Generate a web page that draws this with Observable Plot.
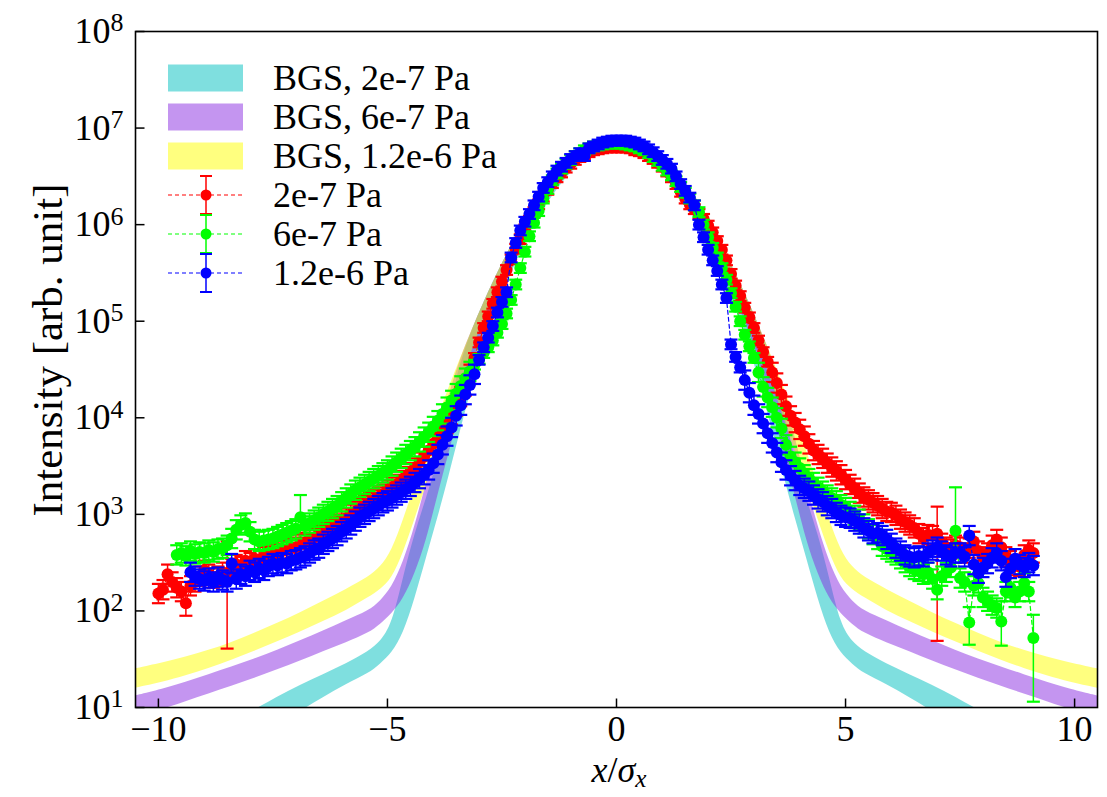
<!DOCTYPE html>
<html><head><meta charset="utf-8">
<script src="https://cdn.jsdelivr.net/npm/d3@7"></script>
<script src="https://cdn.jsdelivr.net/npm/@observablehq/plot@0.6"></script>
<style>
html,body{margin:0;padding:0;background:#fff;}
#chart{width:1107px;height:797px;}
</style></head><body><div id="chart"></div>
<script>
// ---------- data (intensities given as log10 values) ----------
const bandX = [-10.5,-9.9,-9.4,-8.9,-8.4,-7.9,-7.4,-6.9,-6.4,-5.9,-5.4,-5.15,-4.9,-4.65,-4.4,-4.15,-3.9,-3.65,-3.4,-3.15,-2.9,-2.5,-2,-1.5,-1,-0.5,0,0.5,1,1.5,2,2.5,2.9,3.15,3.4,3.65,3.9,4.15,4.4,4.65,4.9,5.15,5.4,5.9,6.4,6.9,7.4,7.9,8.4,8.9,9.4,9.9,10.5];
const bgs2e7Top = [0.45,0.56,0.66,0.76,0.87,0.97,1.11,1.23,1.34,1.45,1.58,1.68,1.85,2.35,2.80,3.16,3.55,4.10,4.58,4.91,5.19,5.60,6.04,6.38,6.64,6.80,6.86,6.80,6.64,6.38,6.04,5.60,5.19,4.91,4.58,4.10,3.55,3.16,2.80,2.35,1.85,1.68,1.58,1.45,1.34,1.23,1.11,0.97,0.87,0.76,0.66,0.56,0.45];
const bgs2e7Bot = [0.20,0.30,0.40,0.50,0.60,0.70,0.82,0.96,1.10,1.24,1.35,1.45,1.56,1.76,2.12,2.55,2.96,3.40,3.88,4.32,4.75,5.27,5.82,6.24,6.55,6.75,6.82,6.75,6.55,6.24,5.82,5.27,4.75,4.32,3.88,3.40,2.96,2.55,2.12,1.76,1.56,1.45,1.35,1.24,1.10,0.96,0.82,0.70,0.60,0.50,0.40,0.30,0.20];
const bgs6e7Top = [1.12,1.19,1.26,1.34,1.42,1.50,1.59,1.69,1.79,1.90,2.00,2.10,2.24,2.50,2.87,3.32,3.80,4.25,4.62,4.91,5.19,5.60,6.04,6.38,6.64,6.80,6.86,6.80,6.64,6.38,6.04,5.60,5.19,4.91,4.62,4.25,3.80,3.32,2.87,2.50,2.24,2.10,2.00,1.90,1.79,1.69,1.59,1.50,1.42,1.34,1.26,1.19,1.12];
const bgs6e7Bot = [0.90,0.98,1.06,1.14,1.22,1.30,1.39,1.48,1.58,1.67,1.77,1.86,1.97,2.12,2.38,2.72,3.20,3.64,4.10,4.53,4.88,5.37,5.88,6.27,6.57,6.75,6.82,6.75,6.57,6.27,5.88,5.37,4.88,4.53,4.10,3.64,3.20,2.72,2.38,2.12,1.97,1.86,1.77,1.67,1.58,1.48,1.39,1.30,1.22,1.14,1.06,0.98,0.90];
const bgs12e6Top = [1.40,1.46,1.52,1.59,1.67,1.77,1.87,1.98,2.10,2.22,2.35,2.45,2.62,2.94,3.30,3.66,4.00,4.32,4.62,4.91,5.19,5.60,6.04,6.38,6.64,6.80,6.86,6.80,6.64,6.38,6.04,5.60,5.19,4.91,4.62,4.32,4.00,3.66,3.30,2.94,2.62,2.45,2.35,2.22,2.10,1.98,1.87,1.77,1.67,1.59,1.52,1.46,1.40];
const bgs12e6Bot = [1.20,1.26,1.33,1.40,1.49,1.58,1.68,1.78,1.89,2.00,2.14,2.22,2.33,2.60,2.95,3.30,3.66,4.00,4.36,4.70,5.02,5.46,5.94,6.31,6.59,6.76,6.82,6.76,6.59,6.31,5.94,5.46,5.02,4.70,4.36,4.00,3.66,3.30,2.95,2.60,2.33,2.22,2.14,2.00,1.89,1.78,1.68,1.58,1.49,1.40,1.33,1.26,1.20];

const xGrid = [-10.0,-9.9,-9.8,-9.7,-9.6,-9.5,-9.4,-9.3,-9.2,-9.1,-9.0,-8.9,-8.8,-8.7,-8.6,-8.5,-8.4,-8.3,-8.2,-8.1,-8.0,-7.9,-7.8,-7.7,-7.6,-7.5,-7.4,-7.3,-7.2,-7.1,-7.0,-6.9,-6.8,-6.7,-6.6,-6.5,-6.4,-6.3,-6.2,-6.1,-6.0,-5.9,-5.8,-5.7,-5.6,-5.5,-5.4,-5.3,-5.2,-5.1,-5.0,-4.9,-4.8,-4.7,-4.6,-4.5,-4.4,-4.3,-4.2,-4.1,-4.0,-3.9,-3.8,-3.7,-3.6,-3.5,-3.4,-3.3,-3.2,-3.1,-3.0,-2.9,-2.8,-2.7,-2.6,-2.5,-2.4,-2.3,-2.2,-2.1,-2.0,-1.9,-1.8,-1.7,-1.6,-1.5,-1.4,-1.3,-1.2,-1.1,-1.0,-0.9,-0.8,-0.7,-0.6,-0.5,-0.4,-0.3,-0.2,-0.1,0.0,0.1,0.2,0.3,0.4,0.5,0.6,0.7,0.8,0.9,1.0,1.1,1.2,1.3,1.4,1.5,1.6,1.7,1.8,1.9,2.0,2.1,2.2,2.3,2.4,2.5,2.6,2.7,2.8,2.9,3.0,3.1,3.2,3.3,3.4,3.5,3.6,3.7,3.8,3.9,4.0,4.1,4.2,4.3,4.4,4.5,4.6,4.7,4.8,4.9,5.0,5.1,5.2,5.3,5.4,5.5,5.6,5.7,5.8,5.9,6.0,6.1,6.2,6.3,6.4,6.5,6.6,6.7,6.8,6.9,7.0,7.1,7.2,7.3,7.4,7.5,7.6,7.7,7.8,7.9,8.0,8.1,8.2,8.3,8.4,8.5,8.6,8.7,8.8,8.9,9.0,9.1];

const red2e7 = [2.18,2.22,2.38,2.30,2.24,2.20,2.08,2.26,2.30,2.36,
2.42,2.38,2.34,2.36,2.40,2.38,2.44,2.48,2.46,2.52,
2.50,2.54,2.53,2.56,2.57,2.60,2.59,2.62,2.63,2.65,
2.66,2.69,2.71,2.74,2.76,2.79,2.82,2.84,2.87,2.90,
2.93,2.96,3.00,3.03,3.06,3.09,3.12,3.15,3.18,3.21,
3.25,3.28,3.31,3.35,3.39,3.43,3.48,3.54,3.60,3.66,
3.73,3.80,3.87,3.94,4.03,4.12,4.22,4.33,4.45,4.62,
4.78,4.93,5.05,5.18,5.30,5.41,5.53,5.64,5.75,5.85,
5.95,6.04,6.13,6.21,6.29,6.36,6.43,6.49,6.54,6.59,
6.63,6.67,6.70,6.73,6.75,6.77,6.78,6.79,6.80,6.80,
6.80,6.80,6.80,6.79,6.77,6.76,6.74,6.71,6.68,6.64,
6.60,6.55,6.49,6.42,6.34,6.27,6.21,6.16,6.11,6.06,
5.99,5.92,5.83,5.74,5.63,5.49,5.37,5.26,5.14,5.04,
4.93,4.80,4.68,4.58,4.47,4.36,4.24,4.12,4.02,3.95,
3.88,3.81,3.73,3.66,3.62,3.58,3.53,3.49,3.45,3.41,
3.36,3.31,3.27,3.22,3.18,3.15,3.12,3.09,3.06,3.03,
3.02,2.99,2.95,2.92,2.89,2.86,2.80,2.76,2.79,2.78,
2.80,2.70,2.66,2.64,2.68,2.66,2.60,2.65,2.72,2.62,
2.56,2.60,2.68,2.74,2.66,2.56,2.52,2.47,2.46,2.58,
2.63,2.60];

const green6e7 = [null,null,null,null,2.58,2.60,2.57,2.62,2.59,2.61,
2.60,2.63,2.61,2.64,2.65,2.68,2.75,2.84,2.89,2.91,
2.82,2.74,2.72,2.73,2.74,2.75,2.77,2.79,2.81,2.83,
2.85,2.97,2.88,2.91,2.94,2.97,3.00,3.03,3.06,3.09,
3.13,3.17,3.21,3.25,3.28,3.31,3.34,3.37,3.40,3.43,
3.46,3.50,3.54,3.58,3.62,3.66,3.70,3.75,3.80,3.85,
3.91,3.97,4.04,4.11,4.18,4.25,4.33,4.41,4.48,4.55,
4.61,4.67,4.73,4.80,4.88,4.97,5.08,5.22,5.38,5.55,
5.72,5.88,6.02,6.14,6.27,6.37,6.46,6.53,6.58,6.63,
6.67,6.71,6.74,6.77,6.79,6.81,6.82,6.83,6.84,6.84,
6.84,6.84,6.83,6.82,6.81,6.79,6.77,6.74,6.70,6.66,
6.61,6.56,6.51,6.45,6.39,6.33,6.27,6.20,6.13,6.00,
5.87,5.76,5.66,5.55,5.43,5.29,5.15,5.00,4.86,4.74,
4.62,4.47,4.32,4.21,4.11,4.00,3.89,3.72,3.60,3.54,
3.48,3.41,3.37,3.33,3.28,3.24,3.20,3.17,3.14,3.10,
3.07,3.03,2.99,2.95,2.90,2.85,2.79,2.74,2.67,2.64,
2.61,2.58,2.54,2.50,2.46,2.43,2.41,2.38,2.40,2.33,
2.22,2.36,2.40,2.45,2.83,2.34,2.30,1.88,2.26,2.29,
2.14,2.10,2.06,2.03,1.89,2.20,2.24,2.14,2.20,2.29,
2.20,1.72];

const blue12e6 = [null,null,null,null,null,null,null,2.40,2.36,2.33,
2.31,2.34,2.30,2.35,2.32,2.30,2.49,2.33,2.38,2.36,
2.42,2.40,2.44,2.42,2.46,2.49,2.47,2.50,2.49,2.52,
2.53,2.55,2.57,2.60,2.63,2.65,2.69,2.72,2.75,2.78,
2.82,2.85,2.89,2.93,2.97,3.00,3.03,3.06,3.09,3.12,
3.14,3.17,3.20,3.23,3.26,3.29,3.33,3.37,3.41,3.46,
3.53,3.62,3.72,3.81,3.90,4.02,4.13,4.24,4.34,4.45,
4.60,4.73,4.83,4.95,5.09,5.20,5.30,5.66,5.81,5.94,
6.03,6.11,6.20,6.29,6.38,6.44,6.50,6.56,6.60,6.64,
6.68,6.71,6.74,6.71,6.79,6.81,6.83,6.85,6.86,6.87,
6.87,6.87,6.87,6.86,6.85,6.83,6.81,6.78,6.75,6.71,
6.67,6.63,6.58,6.50,6.42,6.35,6.28,6.20,6.00,5.87,
5.74,5.63,5.52,5.38,5.24,4.76,4.63,4.52,4.39,4.26,
4.13,4.04,3.94,3.84,3.74,3.64,3.54,3.46,3.40,3.35,
3.30,3.27,3.24,3.20,3.16,3.13,3.09,3.06,3.02,2.99,
2.97,2.96,2.93,2.90,2.86,2.83,2.80,2.81,2.78,2.74,
2.70,2.65,2.62,2.58,2.56,2.55,2.57,2.56,2.60,2.63,
2.66,2.62,2.58,2.56,2.60,2.60,2.56,2.78,2.48,2.39,
2.45,2.49,2.55,2.60,2.52,2.35,2.44,2.54,2.48,2.45,
2.50,2.47];

// typical error-bar half height (decades) and the visibly large error bars [x, low, high] (log10)
const tailErrDex = 0.1;
const coreErrDex = 0.05;
const red2e7BigErr = [[-9.4,1.95,2.20],[-8.5,1.61,2.72],[7.0,1.69,3.08]];
const green6e7BigErr = [[-6.9,2.85,3.20],[7.4,2.60,3.28],[7.7,1.65,2.04],[8.4,1.64,2.10],[9.1,1.06,1.96]];
const blue12e6BigErr = [];

const xTicks = [-10,-5,0,5,10];
const yTicks = [1e1,1e2,1e3,1e4,1e5,1e6,1e7,1e8];

// ---------- build rows ----------
const P = L => Math.pow(10, L);
function bandRows(top, bot){ return bandX.map((x,i)=>({x, hi:P(top[i]), lo:P(bot[i])})); }
function seriesRows(vals, big){
  const out = [];
  xGrid.forEach((x,i)=>{
    const L = vals[i]; if (L == null) return;
    const e = L < 4.5 ? tailErrDex : coreErrDex;
    let lo = L - e, hi = L + e;
    const b = big.find(d => Math.abs(d[0]-x) < 1e-6);
    if (b) { lo = b[1]; hi = b[2]; }
    out.push({x, y:P(L), lo:P(lo), hi:P(hi)});
  });
  return out;
}
const bands = [
  {rows: bandRows(bgs2e7Top, bgs2e7Bot), color:"#00bfbf"},
  {rows: bandRows(bgs6e7Top, bgs6e7Bot), color:"#8a2be2"},
  {rows: bandRows(bgs12e6Top, bgs12e6Bot), color:"#ffff00"}
];
const series = [
  {rows: seriesRows(red2e7, red2e7BigErr), color:"#ff0000"},
  {rows: seriesRows(green6e7, green6e7BigErr), color:"#00ff00"},
  {rows: seriesRows(blue12e6, blue12e6BigErr), color:"#0000ff"}
];

const symR = size => Math.sqrt(size/Math.PI);
const capSym = {draw(c,s){const r=symR(s); c.moveTo(-r,0); c.lineTo(r,0);}};
const tickUp = {draw(c,s){const r=symR(s); c.moveTo(0,0); c.lineTo(0,-r);}};
const tickRight = {draw(c,s){const r=symR(s); c.moveTo(0,0); c.lineTo(r,0);}};

const marks = [];
bands.forEach(b => marks.push(Plot.areaY(b.rows, {x:"x", y1:"lo", y2:"hi", fill:b.color, fillOpacity:0.5, curve:"basis", clip:true})));
series.forEach(s => {
  marks.push(Plot.line(s.rows, {x:"x", y:"y", stroke:s.color, strokeWidth:1.2, strokeDasharray:"4,3", clip:true}));
  marks.push(Plot.ruleX(s.rows, {x:"x", y1:"lo", y2:"hi", stroke:s.color, strokeWidth:1.5, clip:true}));
  marks.push(Plot.dot(s.rows, {x:"x", y:"lo", symbol:capSym, r:6.5, stroke:s.color, fill:"none", strokeWidth:2.2, clip:true}));
  marks.push(Plot.dot(s.rows, {x:"x", y:"hi", symbol:capSym, r:6.5, stroke:s.color, fill:"none", strokeWidth:2.2, clip:true}));
  marks.push(Plot.dot(s.rows, {x:"x", y:"y", r:6, fill:s.color, stroke:"none", clip:true}));
});
marks.push(Plot.frame({stroke:"black", strokeWidth:1.6}));
marks.push(Plot.dot(xTicks, {x:d=>d, frameAnchor:"bottom", symbol:tickUp, r:9, stroke:"black", fill:"none", strokeWidth:1.5}));
marks.push(Plot.dot(yTicks, {y:d=>d, frameAnchor:"left", symbol:tickRight, r:9, stroke:"black", fill:"none", strokeWidth:1.5}));
marks.push(Plot.axisX(xTicks, {tickSize:0, tickPadding:8, fontSize:36, tickFormat:d => d<0 ? "\u2212"+(-d) : String(d)}));
marks.push(Plot.axisY(yTicks, {tickSize:0, tickPadding:12, fontSize:36, tickFormat:d => "10^"+Math.round(Math.log10(d))}));

const FONT = "'Liberation Serif', 'Times New Roman', serif";
const chart = Plot.plot({
  width:1107, height:797,
  marginLeft:135, marginRight:10, marginTop:31, marginBottom:90,
  style:{fontFamily:FONT, background:"white", color:"black"},
  x:{domain:[-10.5,10.5], label:null},
  y:{type:"log", domain:[10,1e8], label:null},
  marks
});
document.getElementById("chart").appendChild(chart);

// ---------- superscripts on y tick labels ----------
const svg = d3.select(chart);
svg.selectAll("text").each(function(){
  const t = d3.select(this);
  const m = /^10\^(\d+)$/.exec(t.text());
  if (!m) return;
  t.text("");
  t.append("tspan").text("10");
  t.append("tspan").attr("dy","-0.45em").attr("font-size","0.72em").text(m[1]);
});

// ---------- axis titles ----------
svg.append("text").attr("transform","translate(47,350) rotate(-90)").attr("text-anchor","middle")
  .attr("dominant-baseline","central")
  .attr("font-family",FONT).attr("font-size",43).attr("fill","black").text("Intensity [arb. unit]");
const xl = svg.append("text").attr("x",619).attr("y",782).attr("text-anchor","middle")
  .attr("font-family",FONT).attr("font-size",36).attr("fill","black");
xl.append("tspan").attr("font-style","italic").text("x");
xl.append("tspan").text("/");
xl.append("tspan").attr("font-style","italic").text("σ");
xl.append("tspan").attr("font-style","italic").attr("font-size","0.7em").attr("dy","0.2em").text("x");

// ---------- legend ----------
const legendPatches = [
  {label:"BGS, 2e-7 Pa", color:"#00bfbf", cy:78},
  {label:"BGS, 6e-7 Pa", color:"#8a2be2", cy:117},
  {label:"BGS, 1.2e-6 Pa", color:"#ffff00", cy:156}
];
const legendLines = [
  {label:"2e-7 Pa", color:"#ff0000", cy:195},
  {label:"6e-7 Pa", color:"#00ff00", cy:234},
  {label:"1.2e-6 Pa", color:"#0000ff", cy:273}
];
const lg = svg.append("g").attr("font-family",FONT).attr("font-size",36).attr("fill","black").attr("text-anchor","start");
legendPatches.forEach(d=>{
  lg.append("rect").attr("x",168).attr("y",d.cy-13.5).attr("width",75).attr("height",27).attr("fill",d.color).attr("fill-opacity",0.5);
  lg.append("text").attr("x",273).attr("y",d.cy+12).text(d.label);
});
legendLines.forEach(d=>{
  lg.append("line").attr("x1",168).attr("x2",243).attr("y1",d.cy).attr("y2",d.cy).attr("stroke",d.color).attr("stroke-width",1.2).attr("stroke-dasharray","4,3");
  lg.append("line").attr("x1",206).attr("x2",206).attr("y1",d.cy-19).attr("y2",d.cy+19).attr("stroke",d.color).attr("stroke-width",1.5);
  lg.append("line").attr("x1",200).attr("x2",212).attr("y1",d.cy-19).attr("y2",d.cy-19).attr("stroke",d.color).attr("stroke-width",2);
  lg.append("line").attr("x1",200).attr("x2",212).attr("y1",d.cy+19).attr("y2",d.cy+19).attr("stroke",d.color).attr("stroke-width",2);
  lg.append("circle").attr("cx",206).attr("cy",d.cy).attr("r",5.5).attr("fill",d.color);
  lg.append("text").attr("x",273).attr("y",d.cy+12).text(d.label);
});
</script>
</body></html>
